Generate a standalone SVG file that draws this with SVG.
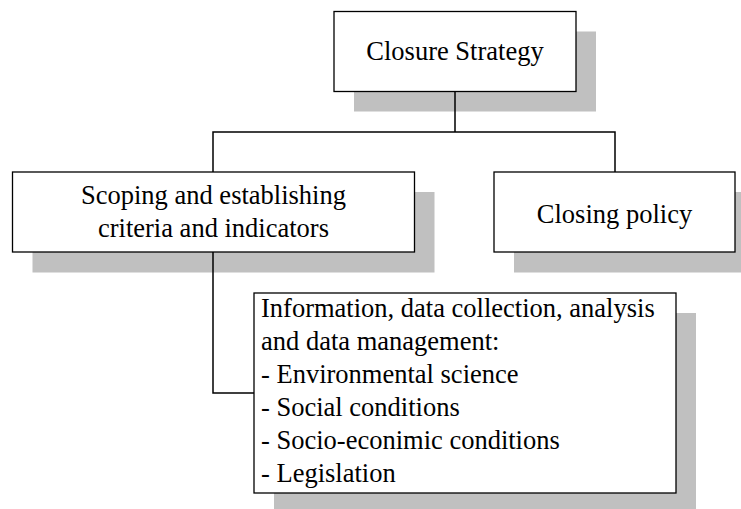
<svg xmlns="http://www.w3.org/2000/svg" width="741" height="509" viewBox="0 0 741 509">
<style>
.bg{fill:#ffffff}
.sh{fill:#c0c0c0;stroke:none}
.box{fill:#ffffff;stroke:#000000;stroke-width:1.3}
.t{font-family:"Liberation Serif","Times New Roman",serif;font-size:26.5px;fill:#000000}
.c{text-anchor:middle}
.conn{fill:none;stroke:#000000;stroke-width:1.5}
</style>
<rect class="bg" x="0" y="0" width="741" height="509"/>
<g id="node-closure-strategy">
<rect class="sh" x="354" y="31.5" width="242" height="80"/>
<rect class="box" x="334" y="11.5" width="242" height="80"/>
<text class="t c" x="455" y="59.5">Closure Strategy</text>
</g>
<g id="node-scoping">
<rect class="sh" x="32.5" y="192" width="402" height="80.5"/>
<rect class="box" x="12.5" y="172" width="402" height="80"/>
<text class="t c" x="213.5" y="204">Scoping and establishing</text>
<text class="t c" x="213.5" y="237">criteria and indicators</text>
</g>
<g id="node-closing-policy">
<rect class="sh" x="514" y="192" width="241" height="80.5"/>
<rect class="box" x="494" y="172" width="241" height="80"/>
<text class="t c" x="614.5" y="223">Closing policy</text>
</g>
<g id="node-information">
<rect class="sh" x="274" y="313" width="422" height="200"/>
<rect class="box" x="254" y="293" width="422" height="200"/>
<text class="t" x="261" y="317">Information, data collection, analysis</text>
<text class="t" x="261" y="350">and data management:</text>
<text class="t" x="261" y="383">- Environmental science</text>
<text class="t" x="261" y="416">- Social conditions</text>
<text class="t" x="261" y="449">- Socio-econimic conditions</text>
<text class="t" x="261" y="482">- Legislation</text>
</g>
<g id="connectors">
<path class="conn" d="M455,91.5 V132 M213,172 V132 H615 V172"/>
<path class="conn" d="M213,252 V393 H254"/>
</g>
</svg>
